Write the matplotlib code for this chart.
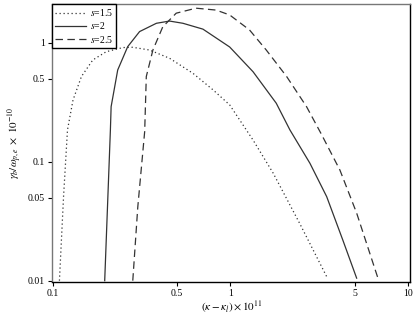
import matplotlib
matplotlib.use("Agg")
import matplotlib.pyplot as plt
import numpy as np

plt.rcParams['font.family'] = 'Liberation Serif'
plt.rcParams['mathtext.fontset'] = 'stix'

# s = 1.5 (dotted)
x15 = [0.109, 0.115, 0.121, 0.130, 0.145, 0.168, 0.200, 0.248, 0.282, 0.350,
       0.454, 0.615, 0.800, 0.990, 1.34, 1.74, 2.46, 3.48]
y15 = [0.010, 0.051, 0.185, 0.330, 0.520, 0.716, 0.840, 0.910, 0.915, 0.868,
       0.740, 0.553, 0.400, 0.300, 0.152, 0.080, 0.030, 0.0108]

# s = 2 (solid)
x20 = [0.196, 0.211, 0.213, 0.232, 0.264, 0.308, 0.383, 0.454, 0.540, 0.700,
       0.990, 1.34, 1.81, 2.16, 2.80, 3.48, 4.30, 5.13]
y20 = [0.010, 0.185, 0.290, 0.590, 0.926, 1.24, 1.456, 1.52, 1.456, 1.30,
       0.920, 0.570, 0.310, 0.185, 0.097, 0.0508, 0.0217, 0.0105]

# s = 2.5 (dashed)
x25 = [0.282, 0.301, 0.329, 0.336, 0.366, 0.416, 0.495, 0.640, 0.830, 0.990,
       1.28, 1.59, 2.07, 2.68, 3.25, 4.13, 5.13, 6.76]
y25 = [0.010, 0.0418, 0.179, 0.520, 0.868, 1.36, 1.77, 1.95, 1.88, 1.71,
       1.28, 0.868, 0.520, 0.290, 0.170, 0.085, 0.037, 0.0105]

xticks = [0.1, 0.5, 1, 5, 10]
xticklabels = ['0.1', '0.5', '1', '5', '10']
yticks = [0.01, 0.05, 0.1, 0.5, 1]
yticklabels = ['0.01', '0.05', '0.1', '0.5', '1']

fig = plt.figure(figsize=(4.15, 3.16), dpi=100)
ax = fig.add_axes([0.1253, 0.1085, 0.8637, 0.8785])

c = '#333333'
ax.plot(x15, y15, linestyle=(0, (1, 2.2)), color=c, lw=0.9, label='$s$=1.5')
ax.plot(x20, y20, '-', color=c, lw=0.9, label='$s$=2')
ax.plot(x25, y25, linestyle=(0, (6, 3.5)), color=c, lw=0.9, label='$s$=2.5')

ax.set_xscale('log')
ax.set_yscale('log')
ax.set_xlim(0.099, 10.3)
ax.set_ylim(0.0098, 2.11)
ax.minorticks_off()
ax.set_xticks(xticks)
ax.set_xticklabels(xticklabels)
ax.set_yticks(yticks)
ax.set_yticklabels(yticklabels)
ax.tick_params(labelsize=7, length=3, width=0.8, pad=2)

for sp in ax.spines.values():
    sp.set_linewidth(1.0)
ax.spines['left'].set_color('#777777')
ax.spines['top'].set_color('#777777')

ax.set_xlabel(r'$(\kappa-\kappa_l)\times10^{11}$', fontsize=8, labelpad=1)
ax.set_ylabel(r'$\gamma_b/\omega_{p,e}\ \times\ 10^{-10}$', fontsize=8, labelpad=3)

leg = ax.legend(loc='upper left', fontsize=7, fancybox=False, framealpha=1,
                borderpad=0.3, handlelength=3.2, handletextpad=0.4,
                labelspacing=0.25, borderaxespad=0.0)
leg.get_frame().set_edgecolor('black')
leg.get_frame().set_linewidth(1.0)

fig.savefig('out.png', dpi=100)
